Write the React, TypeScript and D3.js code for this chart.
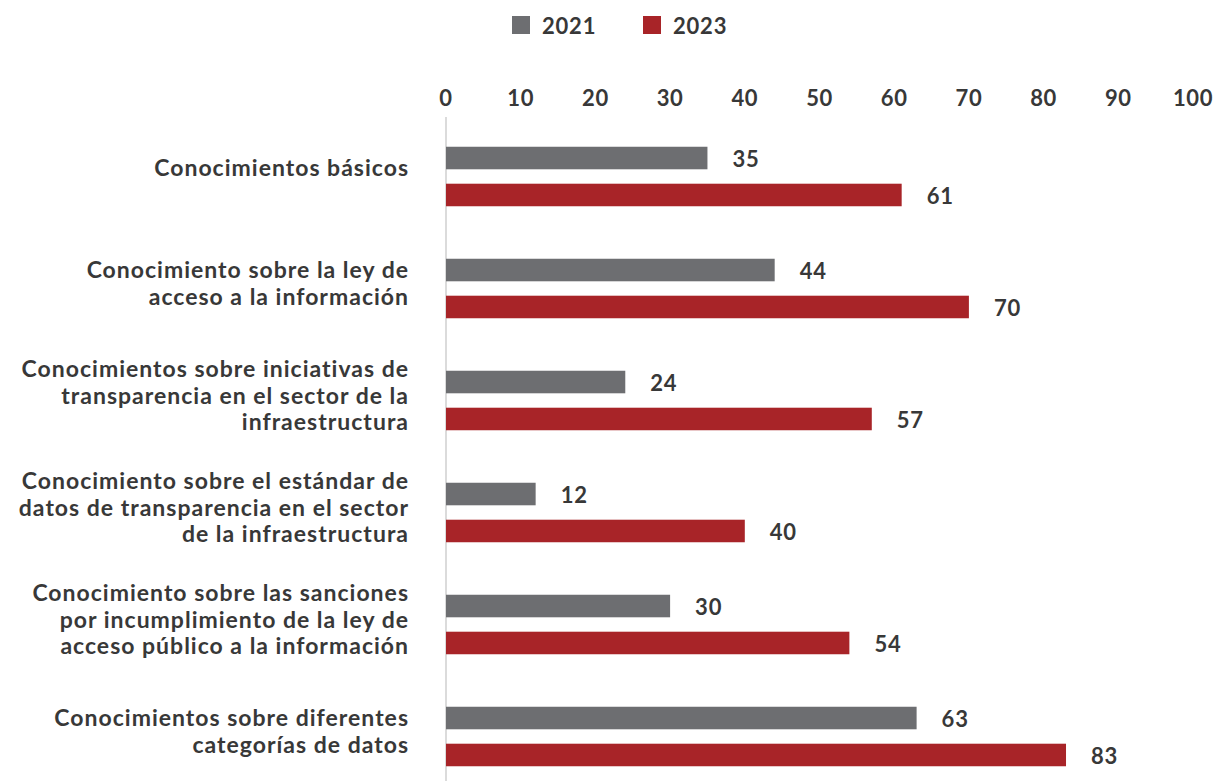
import React, { useEffect, useRef } from 'react';
import * as d3 from 'd3';

const categories: string[][] = [
  ['Conocimientos básicos'],
  ['Conocimiento sobre la ley de', 'acceso a la información'],
  ['Conocimientos sobre iniciativas de', 'transparencia en el sector de la', 'infraestructura'],
  ['Conocimiento sobre el estándar de', 'datos de transparencia en el sector', 'de la infraestructura'],
  ['Conocimiento sobre las sanciones', 'por incumplimiento de la ley de', 'acceso público a la información'],
  ['Conocimientos sobre diferentes', 'categorías de datos'],
];
const values2021 = [35, 44, 24, 12, 30, 63];
const values2023 = [61, 70, 57, 40, 54, 83];
const seriesNames = ['2021', '2023'];
const seriesColors = ['#6d6e71', '#a82428'];
const xTicks = [0, 10, 20, 30, 40, 50, 60, 70, 80, 90, 100];

const WIDTH = 1217;
const HEIGHT = 781;
const FONT = 'Lato, "Open Sans", sans-serif';
const TEXT = '#383838';

const App: React.FC = () => {
  const svgRef = useRef<SVGSVGElement>(null);

  useEffect(() => {
    if (!svgRef.current) return;
    const svg = d3.select(svgRef.current);
    svg.selectAll('*').remove();

    const keys = categories.map((c) => c.join(' '));
    const series = [values2021, values2023];

    const x = d3.scaleLinear().domain([0, 100]).range([446, 1193]);
    const y0 = d3.scaleBand().domain(keys).range([120.5, 792.5]).padding(0);
    const y1 = d3
      .scaleBand()
      .domain(seriesNames)
      .range([0, y0.bandwidth()])
      .paddingInner(0.39)
      .paddingOuter(0.71);

    // legend
    const legend = svg.append('g');
    const legendX = [512, 643];
    seriesNames.forEach((name, i) => {
      legend
        .append('rect')
        .attr('x', legendX[i])
        .attr('y', 16)
        .attr('width', 18)
        .attr('height', 18)
        .attr('fill', seriesColors[i]);
      legend
        .append('text')
        .attr('x', legendX[i] + 30)
        .attr('y', 34)
        .attr('font-family', FONT)
        .attr('font-weight', 700)
        .attr('font-size', 22)
        .attr('letter-spacing', 0.8)
        .attr('fill', TEXT)
        .text(name);
    });

    // top axis tick labels
    svg
      .append('g')
      .selectAll('text')
      .data(xTicks)
      .join('text')
      .attr('x', (d) => x(d))
      .attr('y', 106)
      .attr('text-anchor', 'middle')
      .attr('font-family', FONT)
      .attr('font-weight', 700)
      .attr('font-size', 22)
      .attr('letter-spacing', 0.6)
      .attr('fill', TEXT)
      .text((d) => d);

    // vertical axis line
    svg
      .append('line')
      .attr('x1', x(0))
      .attr('x2', x(0))
      .attr('y1', 117)
      .attr('y2', HEIGHT)
      .attr('stroke', '#cfcfcf')
      .attr('stroke-width', 1.5);

    // category labels
    const lineH = 26.5;
    categories.forEach((lines, i) => {
      const shift = lines.length === 1 ? -9 : -5;
      const cy = (y0(keys[i]) as number) + y0.bandwidth() / 2 + shift;
      const t = svg
        .append('text')
        .attr('text-anchor', 'end')
        .attr('font-family', FONT)
        .attr('font-weight', 700)
        .attr('font-size', 23)
        .attr('letter-spacing', 1)
        .attr('fill', TEXT);
      lines.forEach((ln, j) => {
        t.append('tspan')
          .attr('x', 409)
          .attr('y', cy + (j - (lines.length - 1) / 2) * lineH)
          .attr('dy', '0.35em')
          .text(ln);
      });
    });

    // bars + value labels
    seriesNames.forEach((name, s) => {
      const g = svg.append('g');
      keys.forEach((k, i) => {
        const v = series[s][i];
        const by = (y0(k) as number) + (y1(name) as number);
        g.append('rect')
          .attr('x', x(0))
          .attr('y', by)
          .attr('width', x(v) - x(0))
          .attr('height', y1.bandwidth())
          .attr('fill', seriesColors[s]);
        g.append('text')
          .attr('x', x(v) + 25)
          .attr('y', by + y1.bandwidth() / 2 + 1)
          .attr('dy', '0.35em')
          .attr('font-family', FONT)
          .attr('font-weight', 700)
          .attr('font-size', 22)
          .attr('letter-spacing', 0.8)
          .attr('fill', TEXT)
          .text(v);
      });
    });
  }, []);

  return (
    <svg
      ref={svgRef}
      width={WIDTH}
      height={HEIGHT}
      style={{ position: 'absolute', left: 0, top: 0, background: '#fff' }}
    />
  );
};

export default App;
